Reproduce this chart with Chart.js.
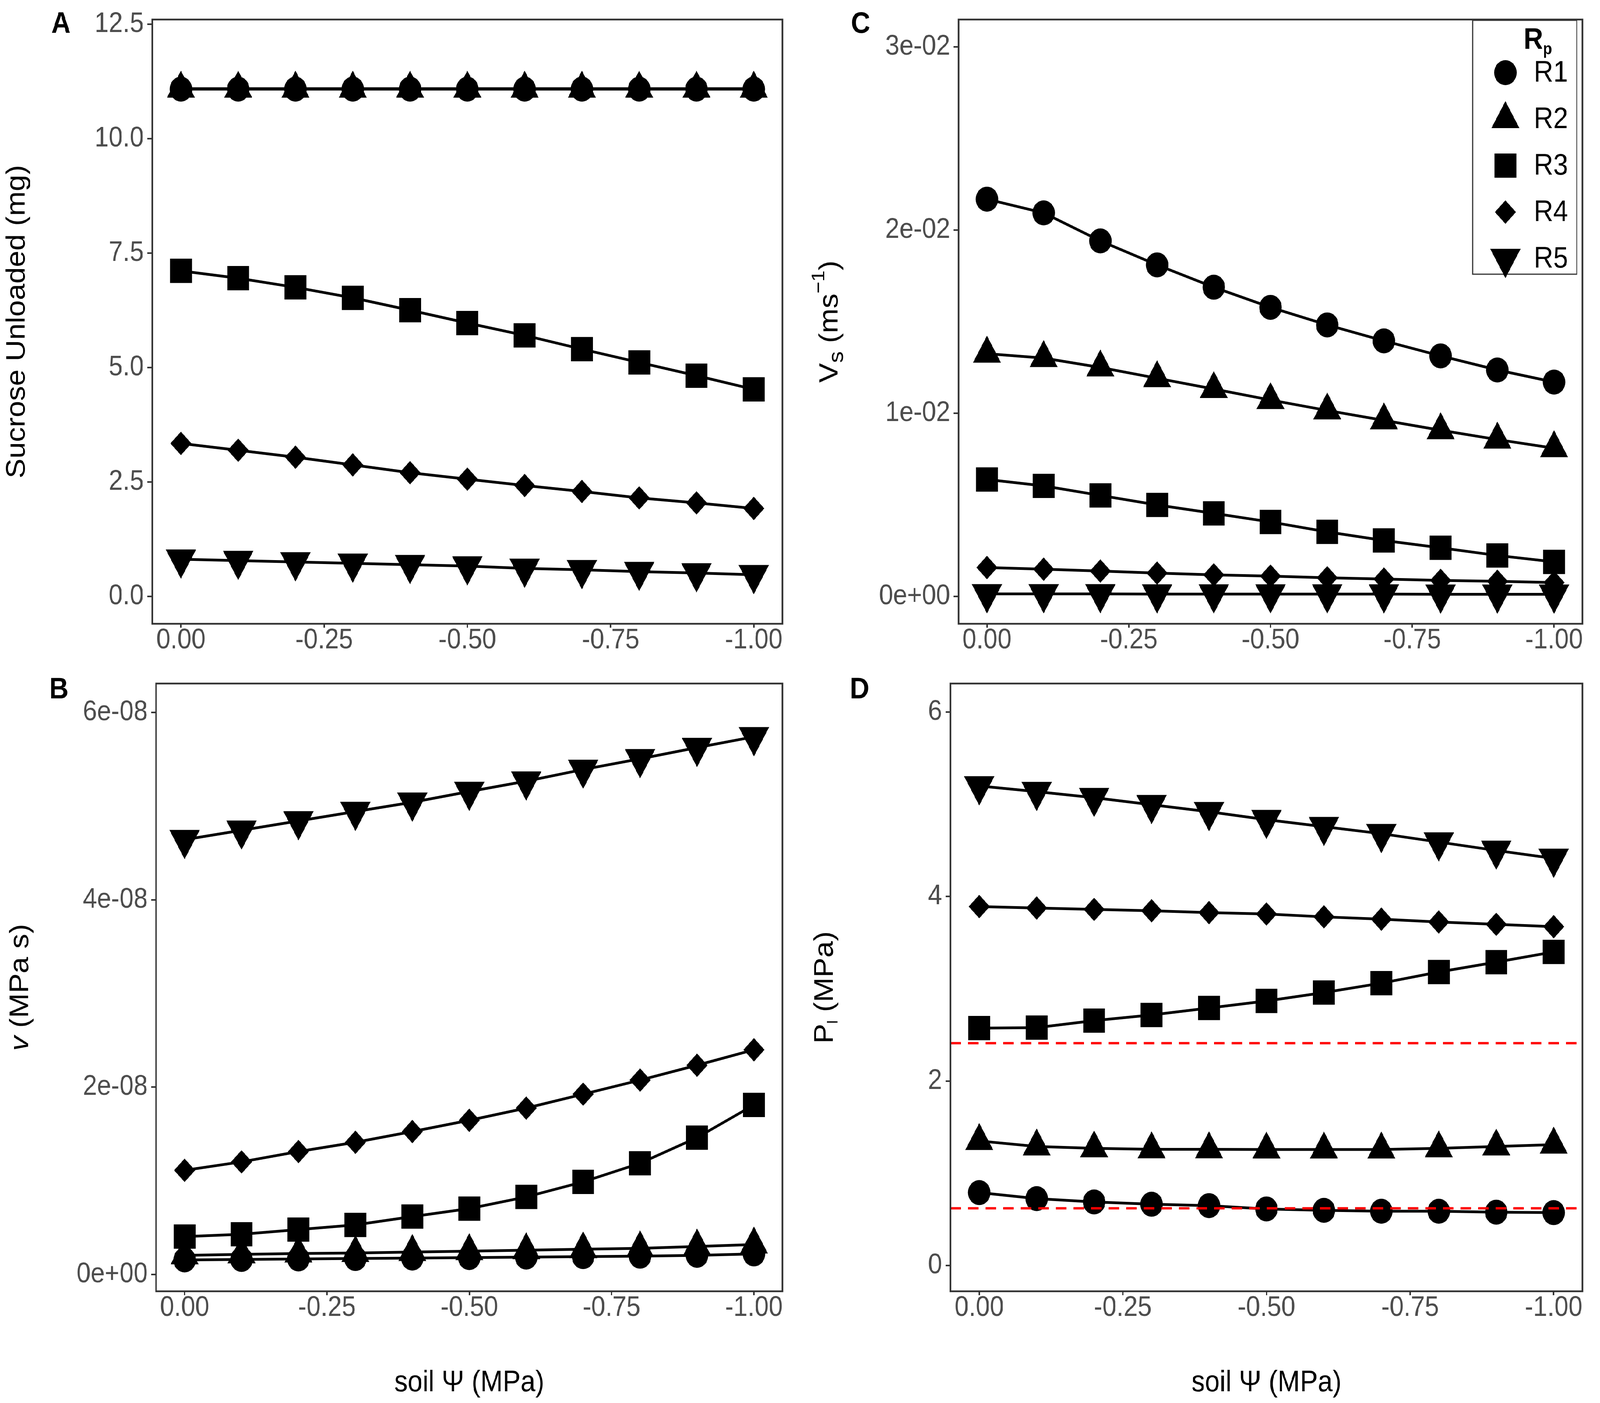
<!DOCTYPE html>
<html>
<head>
<meta charset="utf-8">
<script src="https://cdn.jsdelivr.net/npm/chart.js@4.4.1/dist/chart.umd.min.js"></script>
<style>
  html, body { margin: 0; padding: 0; background: #ffffff; overflow: hidden; }
  #wrap { position: absolute; left: 0; top: 0; width: 4550px; height: 3592px; transform-origin: 0 0; }
  canvas { position: absolute; }
</style>
</head>
<body>
<div id="wrap">
<canvas id="panelA" width="2275" height="1700" style="left:0px;top:0px;width:2275px;height:1700px"></canvas>
<canvas id="panelC" width="2275" height="1700" style="left:2275px;top:0px;width:2275px;height:1700px"></canvas>
<canvas id="panelB" width="2275" height="1892" style="left:0px;top:1700px;width:2275px;height:1892px"></canvas>
<canvas id="panelD" width="2275" height="1892" style="left:2275px;top:1700px;width:2275px;height:1892px"></canvas>
</div>
<script>
// soil water potential (MPa), same for every panel
const soilPsi = [0, -0.1, -0.2, -0.3, -0.4, -0.5, -0.6, -0.7, -0.8, -0.9, -1.0];
const seriesNames = ['R1', 'R2', 'R3', 'R4', 'R5'];

// A: sucrose unloaded (mg)
const sucR1 = [11.08, 11.08, 11.08, 11.08, 11.08, 11.08, 11.08, 11.08, 11.08, 11.08, 11.08];
const sucR2 = [11.09, 11.09, 11.09, 11.09, 11.09, 11.09, 11.09, 11.09, 11.09, 11.09, 11.09];
const sucR3 = [7.11, 6.95, 6.75, 6.52, 6.25, 5.97, 5.70, 5.40, 5.11, 4.82, 4.52];
const sucR4 = [3.34, 3.19, 3.04, 2.87, 2.70, 2.56, 2.42, 2.29, 2.15, 2.04, 1.92];
const sucR5 = [0.81, 0.78, 0.75, 0.72, 0.69, 0.66, 0.61, 0.58, 0.54, 0.51, 0.47];

// B: viscosity v (MPa s)
const visR1 = [1.55e-9, 1.60e-9, 1.65e-9, 1.70e-9, 1.75e-9, 1.80e-9, 1.85e-9, 1.90e-9, 1.95e-9, 2.04e-9, 2.19e-9];
const visR2 = [2.04e-9, 2.14e-9, 2.24e-9, 2.29e-9, 2.39e-9, 2.49e-9, 2.59e-9, 2.69e-9, 2.79e-9, 2.99e-9, 3.19e-9];
const visR3 = [4.04e-9, 4.29e-9, 4.79e-9, 5.29e-9, 6.18e-9, 7.03e-9, 8.28e-9, 9.88e-9, 1.187e-8, 1.461e-8, 1.810e-8];
const visR4 = [1.112e-8, 1.202e-8, 1.312e-8, 1.411e-8, 1.526e-8, 1.646e-8, 1.776e-8, 1.925e-8, 2.075e-8, 2.234e-8, 2.399e-8];
const visR5 = [4.643e-8, 4.743e-8, 4.843e-8, 4.943e-8, 5.042e-8, 5.157e-8, 5.267e-8, 5.392e-8, 5.506e-8, 5.626e-8, 5.741e-8];

// C: sap velocity Vs (m s-1)
const velR1 = [0.02169, 0.02094, 0.01941, 0.01810, 0.01688, 0.01578, 0.01482, 0.01395, 0.01313, 0.01236, 0.01170];
const velR2 = [0.01325, 0.01301, 0.01250, 0.01191, 0.01132, 0.01072, 0.01015, 0.00961, 0.00907, 0.00856, 0.00809];
const velR3 = [0.00638, 0.00603, 0.00551, 0.00499, 0.00453, 0.00406, 0.00352, 0.00305, 0.00265, 0.00223, 0.00188];
const velR4 = [0.00157, 0.00148, 0.00138, 0.00127, 0.00117, 0.00110, 0.00101, 0.00094, 0.00087, 0.00082, 0.00075];
const velR5 = [0.00013, 0.00013, 0.00013, 0.00012, 0.00012, 0.00012, 0.00012, 0.00012, 0.00011, 0.00011, 0.00011];

// D: pressure Pl (MPa)
const preR1 = [0.79, 0.725, 0.689, 0.664, 0.649, 0.613, 0.598, 0.588, 0.588, 0.578, 0.573];
const preR2 = [1.35, 1.29, 1.27, 1.26, 1.26, 1.257, 1.257, 1.257, 1.27, 1.29, 1.31];
const preR3 = [2.574, 2.579, 2.655, 2.716, 2.792, 2.868, 2.959, 3.061, 3.182, 3.289, 3.400];
const preR4 = [3.892, 3.876, 3.861, 3.846, 3.826, 3.811, 3.780, 3.755, 3.724, 3.699, 3.674];
const preR5 = [5.199, 5.138, 5.072, 4.996, 4.920, 4.834, 4.758, 4.682, 4.591, 4.500, 4.414];
const preLimits = [2.41, 0.62];   // red dashed reference lines

// tick labels
const xTicks = [0, -0.25, -0.5, -0.75, -1.0];
const sucTicks = [0, 2.5, 5, 7.5, 10, 12.5];
const visTicks = [0, 2e-8, 4e-8, 6e-8];
const velTicks = [0, 0.01, 0.02, 0.03];
const preTicks = [0, 2, 4, 6];

const xMin = -1.05, xMax = 0.05;
const FONT = '"Liberation Sans", Arial, Helvetica, sans-serif';
Chart.defaults.font.family = FONT;

// the window may be narrower than 4550 css px: stretch the layout to fill it
const fitX = window.innerWidth / 4550;
const fitY = window.innerHeight / 3592;
document.getElementById('wrap').style.transform = 'scale(' + fitX + ',' + fitY + ')';
const dpr = (window.devicePixelRatio || 1) * Math.max(fitX, fitY);

const shapes = [
  { pointStyle: 'circle', radius: 32, rotation: 0 },
  { pointStyle: 'triangle', radius: 46, rotation: 0 },
  { pointStyle: 'rect', radius: 44, rotation: 0 },
  { pointStyle: 'rectRot', radius: 30, rotation: 0 },
  { pointStyle: 'triangle', radius: 50, rotation: 180 }
];

function seriesSets(list) {
  return list.map((vals, i) => ({
    label: seriesNames[i],
    data: soilPsi.map((x, j) => ({ x: x, y: vals[j] })),
    showLine: true,
    borderColor: '#000000',
    backgroundColor: '#000000',
    borderWidth: 7,
    pointStyle: shapes[i].pointStyle,
    pointRadius: shapes[i].radius,
    pointRotation: shapes[i].rotation,
    pointBorderWidth: 0,
    pointBackgroundColor: '#000000',
    tension: 0
  }));
}

function sci(v) {
  const parts = Number(v).toExponential(0).split('e');
  const e = parseInt(parts[1], 10);
  return parts[0] + 'e' + (e < 0 ? '-' : '+') + String(Math.abs(e)).padStart(2, '0');
}

function scales(yMin, yMax, yTicks, yFmt, leftW, bottomH) {
  return {
    x: {
      type: 'linear', reverse: true, min: xMin, max: xMax,
      afterBuildTicks: s => { s.ticks = xTicks.map(v => ({ value: v })); },
      afterFit: s => { s.height = bottomH; },
      grid: { drawOnChartArea: false, drawTicks: true, tickLength: 10, color: '#333333', lineWidth: 4 },
      border: { display: false },
      ticks: { autoSkip: false, maxRotation: 0, padding: -3, color: '#4D4D4D',
               font: { size: 72, lineHeight: 1 }, callback: v => Number(v).toFixed(2) }
    },
    y: {
      type: 'linear', min: yMin, max: yMax,
      afterBuildTicks: s => { s.ticks = yTicks.map(v => ({ value: v })); },
      afterFit: s => { s.width = leftW; },
      grid: { drawOnChartArea: false, drawTicks: true, tickLength: 14, color: '#333333', lineWidth: 4 },
      border: { display: false },
      ticks: { autoSkip: false, padding: 10, color: '#4D4D4D',
               font: { size: 72, lineHeight: 1 }, callback: yFmt }
    }
  };
}

function runFont(r) {
  return (r.italic ? 'italic ' : '') + (r.bold ? 'bold ' : '') + r.size + 'px ' + FONT;
}

function drawRuns(ctx, runs, x, y, angle, align) {
  ctx.save();
  ctx.translate(x, y);
  ctx.rotate(angle);
  ctx.textBaseline = 'alphabetic';
  ctx.textAlign = 'left';
  let total = 0;
  runs.forEach(r => { ctx.font = runFont(r); r.w = ctx.measureText(r.t).width; total += r.w; });
  let cx = align === 'left' ? 0 : -total / 2;
  runs.forEach(r => {
    ctx.font = runFont(r);
    ctx.fillStyle = r.color || '#000000';
    ctx.fillText(r.t, cx, r.dy || 0);
    cx += r.w;
  });
  ctx.restore();
}

const decor = {
  id: 'decor',
  afterDatasetsDraw(chart, args, o) {
    const ctx = chart.ctx, a = chart.chartArea;
    ctx.save();
    ctx.strokeStyle = '#333333';
    ctx.lineWidth = 4.5;
    ctx.strokeRect(a.left, a.top, a.right - a.left, a.bottom - a.top);
    ctx.restore();
  },
  afterDraw(chart, args, o) {
    const ctx = chart.ctx, a = chart.chartArea;
    drawRuns(ctx, [{ t: o.letter, size: 76, bold: true }], o.letterX, o.letterY, 0, 'left');
    drawRuns(ctx, o.yTitle, o.yTitleX, (a.top + a.bottom) / 2, -Math.PI / 2, 'center');
    if (o.xTitle) drawRuns(ctx, o.xTitle, (a.left + a.right) / 2, o.xTitleY, 0, 'center');
    if (o.legend) {
      const L = o.legend;
      ctx.save();
      ctx.fillStyle = '#ffffff';
      ctx.fillRect(L.x, L.y, L.w, L.h);
      ctx.strokeStyle = '#333333';
      ctx.lineWidth = 3;
      ctx.strokeRect(L.x, L.y, L.w, L.h);
      ctx.restore();
      drawRuns(ctx, [{ t: 'R', size: 76, bold: true }, { t: 'p', size: 42, bold: true, dy: 14 }],
               L.titleX, L.titleY, 0, 'left');
      chart.data.datasets.forEach((ds, i) => {
        const cy = L.firstY + i * L.step;
        ctx.save();
        ctx.fillStyle = '#000000';
        const opts = { pointStyle: ds.pointStyle, rotation: ds.pointRotation, radius: ds.pointRadius, borderWidth: 0 };
        if (Chart.helpers && Chart.helpers.drawPoint) {
          Chart.helpers.drawPoint(ctx, opts, L.symX, cy);
        } else {
          ctx.beginPath(); ctx.arc(L.symX, cy, ds.pointRadius, 0, Math.PI * 2); ctx.fill();
        }
        ctx.font = '76px ' + FONT;
        ctx.textBaseline = 'middle';
        ctx.textAlign = 'left';
        ctx.fillText(ds.label, L.textX, cy + 2);
        ctx.restore();
      });
    }
  }
};

function makeChart(id, datasets, sc, pad, deco) {
  return new Chart(document.getElementById(id), {
    type: 'scatter',
    data: { datasets: datasets },
    options: {
      responsive: false,
      devicePixelRatio: dpr,
      animation: false,
      events: [],
      layout: { padding: pad },
      scales: sc,
      plugins: { legend: { display: false }, tooltip: { enabled: false }, decor: deco }
    },
    plugins: [decor]
  });
}

const xTitleRuns = [{ t: 'soil \u03A8 (MPa)', size: 76 }];

// Panel A
makeChart('panelA',
  seriesSets([sucR1, sucR2, sucR3, sucR4, sucR5]),
  scales(-0.6, 12.6, sucTicks, v => Number(v).toFixed(1), 433, 103),
  { left: 0, right: 30, top: 22, bottom: 0 },
  { letter: 'A', letterX: 146, letterY: 84,
    yTitle: [{ t: 'Sucrose Unloaded (mg)', size: 76 }], yTitleX: 70 });

// Panel C
makeChart('panelC',
  seriesSets([velR1, velR2, velR3, velR4, velR5]),
  scales(-0.0015, 0.0315, velTicks, v => sci(v), 451, 103),
  { left: 0, right: 18, top: 22, bottom: 0 },
  { letter: 'C', letterX: 145, letterY: 84,
    yTitle: [{ t: 'V', size: 76 }, { t: 's', size: 60, dy: 15 }, { t: ' (ms', size: 76 },
             { t: '\u22121', size: 52, dy: -38 }, { t: ')', size: 76 }], yTitleX: 107,
    legend: { x: 1913, y: 52, w: 296, h: 650, titleX: 2058, titleY: 125,
              symX: 2006, textX: 2087, firstY: 186, step: 119 } });

// Panel B
makeChart('panelB',
  seriesSets([visR1, visR2, visR3, visR4, visR5]),
  scales(-0.18e-8, 6.31e-8, visTicks, v => sci(v), 444, 286),
  { left: 0, right: 30, top: 39, bottom: 0 },
  { letter: 'B', letterX: 140, letterY: 88,
    yTitle: [{ t: 'v', size: 76, italic: true }, { t: ' (MPa s)', size: 76 }], yTitleX: 80,
    xTitle: xTitleRuns, xTitleY: 1862 });

// Panel D
const dSets = seriesSets([preR1, preR2, preR3, preR4, preR5]);
preLimits.forEach(v => {
  dSets.push({
    label: 'limit',
    data: [{ x: xMax, y: v }, { x: xMin, y: v }],
    showLine: true,
    borderColor: '#FF0000',
    borderWidth: 6,
    borderDash: [30, 20],
    pointRadius: 0,
    order: -1
  });
});
makeChart('panelD',
  dSets,
  scales(-0.28, 6.31, preTicks, v => String(v), 428, 286),
  { left: 0, right: 18, top: 39, bottom: 0 },
  { letter: 'D', letterX: 142, letterY: 88,
    yTitle: [{ t: 'P', size: 76 }, { t: 'l', size: 40, dy: 14 }, { t: ' (MPa)', size: 76 }], yTitleX: 93,
    xTitle: xTitleRuns, xTitleY: 1862 });
</script>
</body>
</html>
